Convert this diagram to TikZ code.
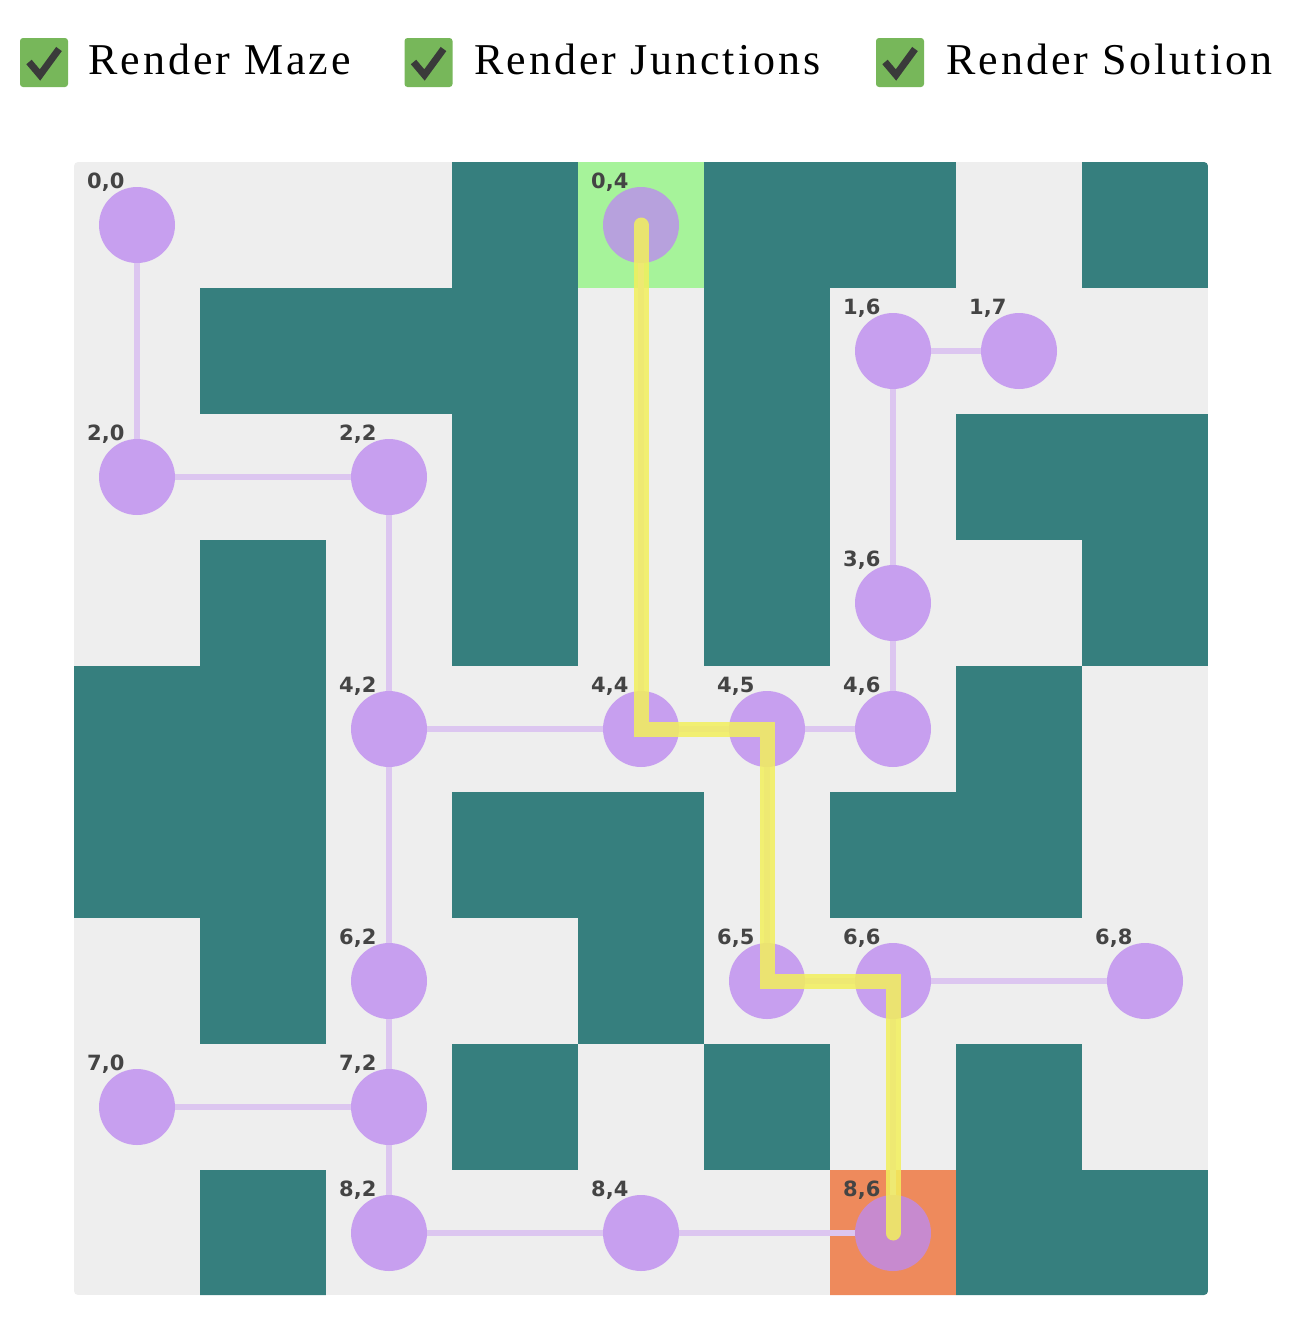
\documentclass[tikz,border=0pt]{standalone}
\usepackage{fontspec}
\setmainfont{Liberation Serif}
\newfontfamily\hdrfont[LetterSpace=6.8]{Liberation Serif}
\newfontfamily\labfont{DejaVu Sans}
\usetikzlibrary{calc}
\definecolor{gridbg}{HTML}{EEEEEE}
\definecolor{wallc}{HTML}{367F7E}
\definecolor{startc}{HTML}{A6F39A}
\definecolor{endc}{HTML}{EE8A5C}
\definecolor{boxc}{HTML}{77B75A}
\definecolor{tickc}{HTML}{3A3A3A}
\definecolor{juncc}{RGB}{189,138,240}
\definecolor{edgec}{HTML}{DCC6F0}
\definecolor{solc}{RGB}{242,240,92}
\definecolor{labc}{HTML}{444444}
\tikzset{
  wall/.style={fill=wallc},
  junc/.style={circle, minimum size=76pt, inner sep=0pt, fill=juncc, fill opacity=0.78},
  lab/.style={anchor=base west, inner sep=0pt, text=labc, font=\labfont\bfseries\fontsize{21}{21}\selectfont},
  edge/.style={draw=edgec, line width=5.5pt},
  sol/.style={draw=solc, draw opacity=0.85, line width=15pt, line cap=round, line join=miter},
  cbox/.style={fill=boxc, rounded corners=3pt, minimum width=48pt, minimum height=49pt, inner sep=0pt},
  tick/.style={draw=tickc, line width=7pt},
  hdr/.style={anchor=base west, inner sep=0pt, font=\hdrfont\fontsize{44}{44}\selectfont}
}
\begin{document}
\begin{tikzpicture}[x=1pt,y=-1pt]
\useasboundingbox (0,0) rectangle (1298,1320);
% header
\node[cbox] (cb1) at (44,62.5) {};
\node[cbox] (cb2) at (428.5,62.5) {};
\node[cbox] (cb3) at (900,62.5) {};
\foreach \b in {cb1,cb2,cb3}
  \draw[tick, shift={(\b.center)}] (-15,-0.5) -- (-4,12.5) -- (15,-13.5);
\node[hdr] (t1) at (88,74) {Render Maze};
\node[hdr] (t2) at (474,74) {Render Junctions};
\node[hdr] (t3) at (946,74) {Render Solution};
% grid
\begin{scope}
\clip[rounded corners=4pt] (74,162) rectangle (1208,1295);
\fill[gridbg] (74,162) rectangle (1208,1295);
\foreach \r/\cs in {0/{3,5,6,8},1/{1,2,3,5},2/{3,5,7,8},3/{1,3,5,8},4/{0,1,7},5/{0,1,3,4,6,7},6/{1,4},7/{3,5,7},8/{1,7,8}}
  \foreach \c in \cs
    \fill[wall] ({74+126*\c-0.3},{162+126*\r-0.3}) rectangle ({74+126*(\c+1)+0.3},{162+126*(\r+1)+0.3});
\fill[startc] (578,162) rectangle (704,288);
\fill[endc] (830,1170) rectangle (956,1296);
\end{scope}
% junctions
\foreach \r/\c in {0/0,0/4,1/6,1/7,2/0,2/2,3/6,4/2,4/4,4/5,4/6,6/2,6/5,6/6,6/8,7/0,7/2,8/2,8/4,8/6}{
  \node[junc] (j\r\c) at ({137+126*\c},{225+126*\r}) {};
  \node[lab] (l\r\c) at ({74+126*\c+13},{162+126*\r+26}) {\r,\c};
}
% edges
\foreach \a/\b in {00/20,20/22,22/42,42/44,44/45,45/46,46/36,36/16,16/17,42/62,62/72,70/72,72/82,82/84,84/86,66/68,04/44,45/65,65/66,66/86}
  \draw[edge] (j\a) -- (j\b);
% solution
\draw[sol] (j04.center) -- (j44.center) -- (j45.center) -- (j65.center) -- (j66.center) -- (j86.center);
\end{tikzpicture}
\end{document}
